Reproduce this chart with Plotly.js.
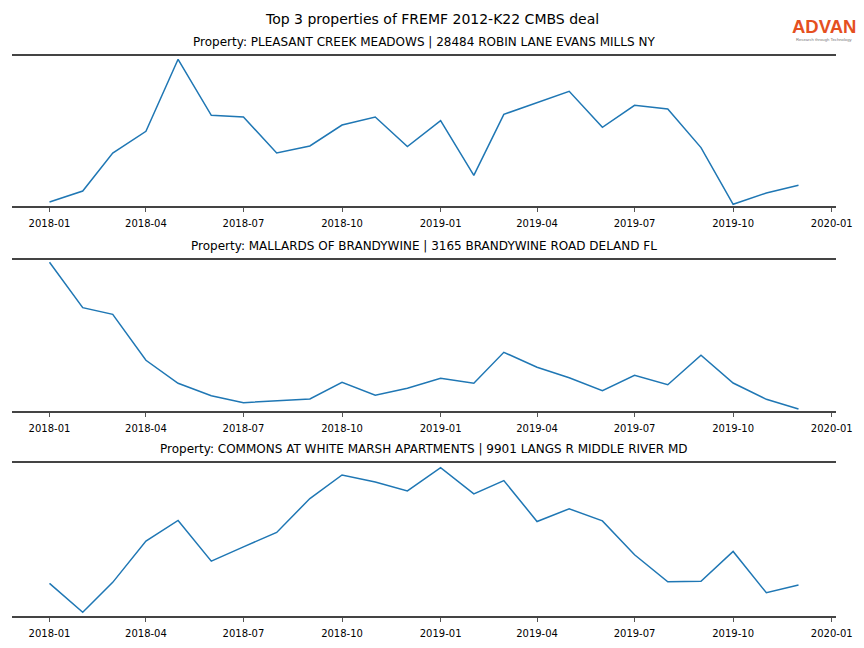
<!DOCTYPE html>
<html>
<head>
<meta charset="utf-8">
<script src="https://cdn.plot.ly/plotly-3.0.1.min.js"></script>
<style>html,body{margin:0;padding:0;background:#fff;}#chart{width:864px;height:648px;}</style>
</head>
<body>
<div id="chart"></div>
<script>
const months = ["2018-01-01","2018-02-01","2018-03-01","2018-04-01","2018-05-01","2018-06-01","2018-07-01","2018-08-01","2018-09-01","2018-10-01","2018-11-01","2018-12-01","2019-01-01","2019-02-01","2019-03-01","2019-04-01","2019-05-01","2019-06-01","2019-07-01","2019-08-01","2019-09-01","2019-10-01","2019-11-01","2019-12-01"];
const pleasantCreek = [4.3,15.3,53.3,75,147,91,89.3,53.3,60.3,81.3,89.3,59.7,85.7,31,92,103.7,115,79,101,97.3,58.7,2,13.3,21];
const mallards = [148.7,103.3,96.7,50.7,27.7,15.3,8.3,10,12,28.7,15.7,22.7,32.7,27.7,58.7,43.7,33.3,20.3,35.7,26.3,55.7,28,11.7,2];
const whiteMarsh = [32.7,3.7,33.7,75,95.7,55,69.3,83.7,117.7,141.3,134.3,125.3,148.7,122.3,135.7,94.7,107.3,95.3,61.3,34.3,34.7,64.7,23.3,31];
const tickVals = ["2018-01-01","2018-04-01","2018-07-01","2018-10-01","2019-01-01","2019-04-01","2019-07-01","2019-10-01","2020-01-01"];
const tickText = ["2018-01","2018-04","2018-07","2018-10","2019-01","2019-04","2019-07","2019-10","2020-01"];
const subTitles = [
  "Property: PLEASANT CREEK MEADOWS | 28484 ROBIN LANE EVANS MILLS NY",
  "Property: MALLARDS OF BRANDYWINE | 3165 BRANDYWINE ROAD DELAND FL",
  "Property: COMMONS AT WHITE MARSH APARTMENTS | 9901 LANGS R MIDDLE RIVER MD"
];
const mainTitle = "Top 3 properties of FREMF 2012-K22 CMBS deal";

const W = 864, H = 648;
const xDom = [12/W, 836/W];
const panels = [
  {top:56, bot:206, data:pleasantCreek, yr:[0.3,150.3]},
  {top:260, bot:411, data:mallards, yr:[0,151]},
  {top:463, bot:616, data:whiteMarsh, yr:[0,153.3]}
];
const font = "DejaVu Sans, sans-serif";
const traces = [];
const layout = {
  width:W, height:H, margin:{l:0,r:0,t:0,b:0},
  paper_bgcolor:"#fff", plot_bgcolor:"#fff", showlegend:false,
  annotations:[], font:{family:font, color:"#000"}
};
panels.forEach((p,i)=>{
  const n = i===0 ? "" : String(i+1);
  traces.push({x:months, y:p.data, type:"scatter", mode:"lines",
    line:{color:"#1f77b4", width:1.5}, xaxis:"x"+n, yaxis:"y"+n, hoverinfo:"skip"});
  layout["xaxis"+n] = {
    domain:xDom, anchor:"y"+n, type:"date",
    range:["2017-11-27","2020-01-05"],
    tickmode:"array", tickvals:tickVals, ticktext:tickText,
    ticks:"outside", ticklen:4, tickwidth:1, tickcolor:"#555", ticklabelstandoff:3,
    tickfont:{size:10, family:font, color:"#000"},
    showline:true, mirror:true, linecolor:"#444", linewidth:2,
    showgrid:false, zeroline:false
  };
  layout["yaxis"+n] = {
    domain:[1-p.bot/H, 1-p.top/H], anchor:"x"+n, range:p.yr,
    showline:false, showticklabels:false, ticks:"", showgrid:false, zeroline:false
  };
  layout.annotations.push({text:subTitles[i], xref:"paper", yref:"paper",
    x:424/W, y:1-(p.top-14)/H, xanchor:"center", yanchor:"middle", showarrow:false,
    font:{size:12, family:font, color:"#000"}});
});
layout.annotations.push({text:mainTitle, xref:"paper", yref:"paper", x:0.5, y:1-19/H,
  xanchor:"center", yanchor:"middle", showarrow:false, font:{size:14, family:font, color:"#000"}});
layout.annotations.push({text:"<b>ADVAN</b>", xref:"paper", yref:"paper", x:824/W, y:1-26.5/H,
  xanchor:"center", yanchor:"middle", showarrow:false, borderpad:0,
  font:{size:18.5, family:"Liberation Sans, Arial, sans-serif", color:"#e5501f"}});
layout.annotations.push({text:"Research through Technology", xref:"paper", yref:"paper", x:824/W, y:1-39.5/H,
  xanchor:"center", yanchor:"middle", showarrow:false, borderpad:0,
  font:{size:4.2, family:"Liberation Sans, Arial, sans-serif", color:"#777"}});
Plotly.newPlot("chart", traces, layout, {displayModeBar:false, staticPlot:true});
</script>
</body>
</html>
